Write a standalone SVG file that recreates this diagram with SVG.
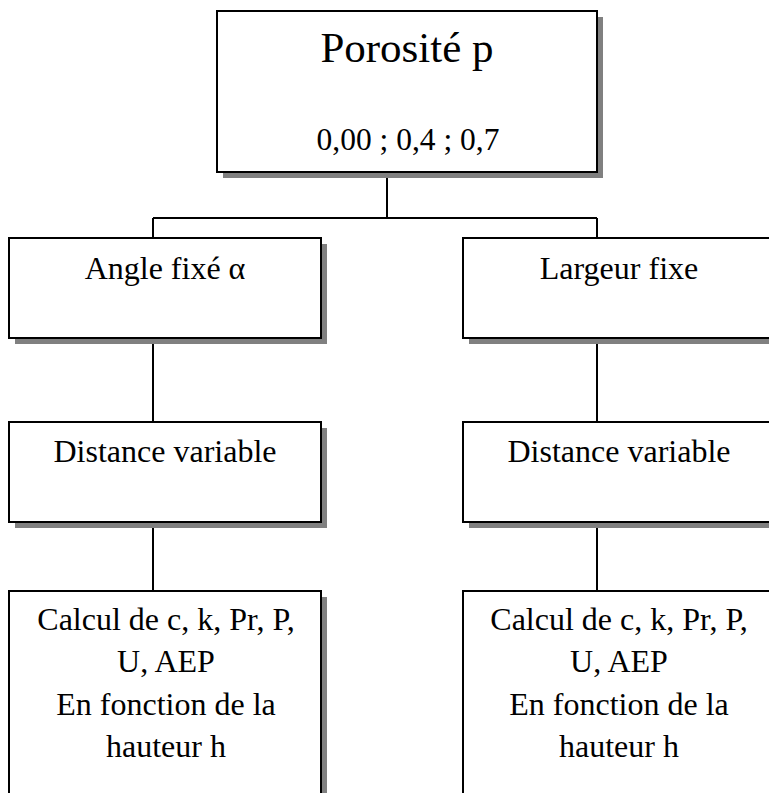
<svg xmlns="http://www.w3.org/2000/svg" width="769" height="793" viewBox="0 0 769 793">
<style>
.shadow{fill:#808080;stroke:none}
.box{fill:#ffffff;stroke:#000000;stroke-width:2}
.conn{fill:none;stroke:#000000;stroke-width:2}
text{font-family:'Liberation Serif','Times New Roman',serif;fill:#000000;text-anchor:middle}
.t{font-size:32px}
.v{font-size:31.5px}
.big{font-size:43px}
</style>
<rect width="769" height="793" fill="#ffffff"/>
<g id="connectors">
<path class="conn" d="M387,172 V218 M153,218 H597 M153,218 V238 M597,218 V238"/>
<path class="conn" d="M153,338 V422 M153,522 V591 M597,338 V422 M597,522 V591"/>
</g>
<g id="porosite">
<rect class="shadow" x="223" y="17" width="380" height="161"/>
<rect class="box" x="217" y="11" width="380" height="161"/>
<text class="big" x="407" y="62">Porosité p</text>
<text class="v" x="408" y="150">0,00 ; 0,4 ; 0,7</text>
</g>
<g id="angle">
<rect class="shadow" x="15" y="244" width="312" height="100"/>
<rect class="box" x="9" y="238" width="312" height="100"/>
<text class="t" x="165" y="279">Angle fixé α</text>
</g>
<g id="largeur">
<rect class="shadow" x="469" y="244" width="312" height="100"/>
<rect class="box" x="463" y="238" width="312" height="100"/>
<text class="t" x="619" y="279">Largeur fixe</text>
</g>
<g id="distance-left">
<rect class="shadow" x="15" y="428" width="312" height="100"/>
<rect class="box" x="9" y="422" width="312" height="100"/>
<text class="t" x="165" y="462">Distance variable</text>
</g>
<g id="distance-right">
<rect class="shadow" x="469" y="428" width="312" height="100"/>
<rect class="box" x="463" y="422" width="312" height="100"/>
<text class="t" x="619" y="462">Distance variable</text>
</g>
<g id="calcul-left">
<rect class="shadow" x="15" y="597" width="312" height="220"/>
<rect class="box" x="9" y="591" width="312" height="220"/>
<text class="t" x="166" y="630">Calcul de c, k, Pr, P,</text>
<text class="t" x="166" y="672">U, AEP</text>
<text class="t" x="166" y="715">En fonction de la</text>
<text class="t" x="166" y="757">hauteur h</text>
</g>
<g id="calcul-right">
<rect class="shadow" x="469" y="597" width="312" height="220"/>
<rect class="box" x="463" y="591" width="312" height="220"/>
<text class="t" x="619" y="630">Calcul de c, k, Pr, P,</text>
<text class="t" x="619" y="672">U, AEP</text>
<text class="t" x="619" y="715">En fonction de la</text>
<text class="t" x="619" y="757">hauteur h</text>
</g>
</svg>
